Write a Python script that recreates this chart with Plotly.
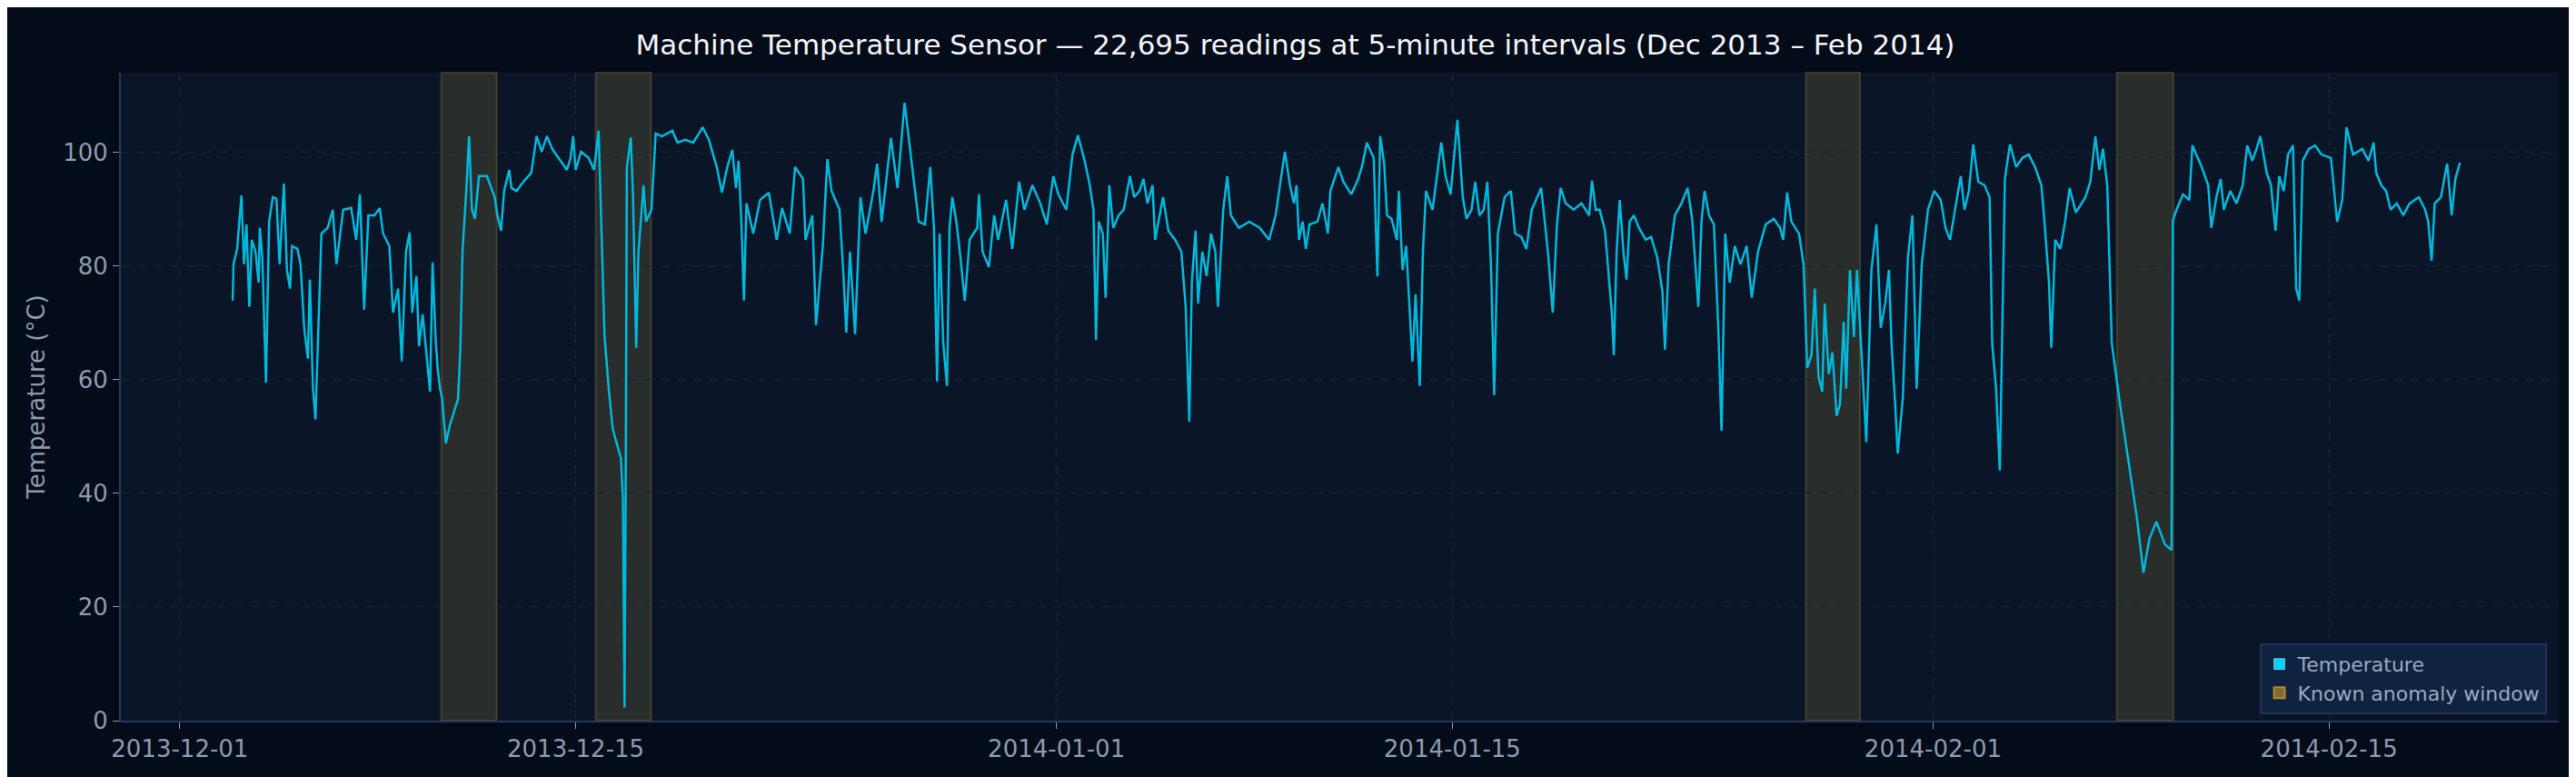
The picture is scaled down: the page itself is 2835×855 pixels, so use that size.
import pandas as pd
import plotly.graph_objects as go

# readings as (days since 2013-12-01, temperature degC)
day_offset = [
    1.87, 1.90, 2.03, 2.18, 2.27, 2.36, 2.46, 2.55, 2.68, 2.79, 2.83, 2.92, 3.05, 3.16, 3.29, 3.42,
    3.53, 3.68, 3.79, 3.90, 3.97, 4.16, 4.27, 4.40, 4.53, 4.60, 4.71, 4.80, 4.89, 5.01, 5.23, 5.41,
    5.54, 5.78, 6.06, 6.24, 6.37, 6.52, 6.67, 6.89, 7.07, 7.19, 7.41, 7.54, 7.72, 7.85, 8.00, 8.13,
    8.22, 8.37, 8.46, 8.59, 8.74, 8.85, 8.94, 9.05, 9.12, 9.20, 9.28, 9.41, 9.55, 9.70, 9.84, 9.92,
    10.00, 10.13, 10.23, 10.33, 10.44, 10.58, 10.86, 11.14, 11.23, 11.36, 11.47, 11.65, 11.73,
    11.91, 12.15, 12.43, 12.62, 12.80, 12.98, 13.17, 13.45, 13.69, 13.82, 13.91, 14.00, 14.19,
    14.46, 14.65, 14.81, 14.95, 15.02, 15.17, 15.31, 15.45, 15.60, 15.67, 15.73, 15.77, 15.81,
    15.95, 16.03, 16.14, 16.22, 16.40, 16.49, 16.68, 16.83, 17.05, 17.42, 17.60, 17.88, 18.16,
    18.49, 18.71, 18.99, 19.17, 19.36, 19.54, 19.67, 19.76, 19.86, 19.95, 20.04, 20.28, 20.52,
    20.83, 21.11, 21.30, 21.57, 21.76, 22.04, 22.13, 22.37, 22.50, 22.74, 22.90, 23.05, 23.33,
    23.46, 23.57, 23.70, 23.88, 24.07, 24.25, 24.53, 24.66,
    24.82, 25.15, 25.38, 25.63, 25.89, 26.13, 26.35, 26.54, 26.67, 26.78, 26.87, 27.00, 27.13,
    27.22, 27.32, 27.46, 27.61, 27.76, 27.93, 28.20, 28.26, 28.39, 28.61, 28.80, 28.94, 29.22,
    29.44, 29.68, 29.87, 30.15, 30.43, 30.66, 30.89, 31.07, 31.35, 31.57, 31.76, 32.00, 32.18,
    32.31, 32.40, 32.50, 32.64, 32.74, 32.87, 33.01, 33.20, 33.38, 33.60, 33.75, 33.94, 34.08,
    34.22, 34.40, 34.49, 34.77, 34.96, 35.20, 35.42, 35.57, 35.70, 35.79, 35.92, 36.01, 36.16,
    36.31, 36.47, 36.62, 36.71, 36.90, 37.04, 37.17, 37.45, 37.82, 38.19, 38.52, 38.75, 38.93,
    39.08, 39.26, 39.40, 39.49, 39.58, 39.71, 39.82, 39.95, 40.23, 40.41, 40.60, 40.69, 40.97,
    41.15, 41.43, 41.67, 41.80, 41.98, 42.22, 42.35, 42.45, 42.59, 42.69, 42.85, 43.04, 43.11,
    43.24, 43.37, 43.52, 43.59, 43.70, 43.85, 43.96, 44.07, 44.30, 44.61, 44.76, 44.94, 45.18,
    45.37, 45.50, 45.68, 45.81, 45.96, 46.11, 46.24, 46.37, 46.48, 46.61, 46.85, 47.07, 47.22,
    47.44, 47.62, 47.81, 47.99, 48.14, 48.27, 48.40, 48.55, 48.70, 48.83, 49.01, 49.29, 49.57,
    49.84, 49.94, 50.07, 50.21, 50.40, 50.53, 50.64, 50.71, 50.81, 50.92, 51.05, 51.16, 51.27,
    51.42, 51.60, 51.84,
    52.03, 52.25, 52.43, 52.52, 52.65, 52.87, 53.10, 53.32, 53.48, 53.70, 53.81, 53.92, 54.08,
    54.25, 54.41, 54.52, 54.65, 54.81, 54.99, 55.19, 55.41, 55.59, 55.81, 56.08, 56.37, 56.59,
    56.70, 56.84, 56.99, 57.26, 57.42, 57.55, 57.70, 57.82, 57.95, 58.08, 58.17, 58.31, 58.44,
    58.59, 58.71, 58.84, 58.93, 59.06, 59.20, 59.31, 59.46, 59.64, 59.82, 60.00, 60.15, 60.31,
    60.44, 60.53, 60.66, 60.75, 60.93, 61.11, 61.27, 61.42, 61.60, 61.82, 62.04, 62.27, 62.44,
    62.60, 62.76, 62.98, 63.11, 63.27, 63.42, 63.60, 63.82, 64.00, 64.09, 64.23, 64.36, 64.54,
    64.72, 64.94, 65.16, 65.38, 65.61, 65.83, 65.94, 66.10, 66.18, 66.32, 66.50, 66.67, 66.83,
    67.05, 67.39, 67.56, 67.74, 67.88, 68.01, 68.16, 68.32, 68.60, 68.90, 69.20, 69.44, 69.65,
    69.90, 70.20, 70.43, 70.48, 70.61, 70.84, 71.06, 71.17, 71.50, 71.73, 71.84, 72.02, 72.17,
    72.28, 72.51, 72.73, 72.95, 73.11, 73.29, 73.44, 73.57, 73.80, 73.95, 74.11, 74.24, 74.40,
    74.55, 74.73, 74.84, 74.95, 75.07, 75.29, 75.51, 75.73, 76.07, 76.29, 76.47, 76.62, 76.85,
    77.18, 77.40, 77.58, 77.67, 77.85, 78.02, 78.18, 78.40, 78.63, 78.85, 79.18, 79.40, 79.51,
    79.63, 79.74, 79.96, 80.18, 80.34, 80.47, 80.63,
]
temperature = [
    73.9, 80.3, 83.0, 92.4, 80.3, 87.3, 72.8, 84.6, 82.5, 77.1, 86.7, 81.4, 59.5, 87.8, 92.1, 91.8,
    80.3, 94.5, 79.3, 76.0, 83.5, 83.0, 80.3, 69.1, 63.7, 77.6, 58.4, 53.0, 67.5, 85.7, 86.7, 89.9,
    80.3, 89.9, 90.2, 84.6, 92.6, 72.3, 88.9, 88.9, 90.2, 85.7, 83.5, 71.8, 76.0, 63.2, 82.5, 85.9,
    71.8, 78.2, 65.9, 71.5, 63.7, 57.9, 80.6, 67.0, 62.0, 58.5, 56.6, 48.8, 52.0, 54.5, 56.6, 65.3,
    82.6, 93.0, 102.8, 89.9, 88.3, 95.8, 95.8, 92.1, 88.9, 86.2, 93.2, 96.9, 93.7,
    93.2, 94.8, 96.4, 102.8, 100.1, 102.8, 100.6, 98.5, 96.9, 99.0, 102.8, 96.9, 100.1,
    99.0, 96.9, 103.8, 80.9, 67.9, 58.3, 51.4, 48.8, 46.2, 39.2, 2.3, 41.8, 97.4,
    102.6, 92.1, 65.6, 82.5, 94.2, 87.8, 89.9, 103.3, 102.8, 103.8, 101.7, 102.2, 101.7,
    104.4, 102.2, 97.4, 92.9, 97.4, 100.4, 93.7, 98.5, 87.8, 73.9, 91.0, 85.7, 91.6,
    92.9, 84.6, 90.2, 85.7, 97.4, 95.3, 84.6, 88.9, 69.6, 83.5, 98.8, 93.2, 89.9,
    79.3, 68.3, 82.5, 68.0, 92.1, 85.7, 93.2, 98.0,
    87.8, 102.5, 93.7, 108.7, 97.4, 87.8, 87.3, 97.4, 86.7, 59.7, 85.7, 66.4, 58.9,
    86.7, 92.1, 87.8, 81.4, 73.9, 84.6, 86.7, 92.6, 82.5, 79.8, 88.9, 84.6, 91.6,
    83.0, 94.8, 89.9, 94.2, 91.0, 87.3, 95.8, 92.6, 89.9, 99.6, 103.0, 98.5, 94.2,
    89.9, 67.0, 87.8, 85.7, 74.4, 94.2, 86.7, 88.9, 89.9, 95.8, 92.1, 93.2, 95.3,
    91.0, 94.2, 84.6, 92.1, 86.2, 84.6, 82.5, 72.8, 52.6, 77.1, 86.2, 73.4, 82.5,
    78.2, 85.7, 82.5, 72.8, 89.9, 95.8, 88.9, 86.7, 87.8, 86.7, 84.6, 88.9, 95.3,
    100.1, 94.2, 91.0, 94.2, 84.6, 87.8, 83.0, 87.3, 87.8, 91.0, 85.7, 93.2, 97.4,
    94.8, 92.6, 95.3, 97.4, 101.7, 99.0, 78.2, 102.8, 98.0, 88.9, 88.3, 84.6, 93.2,
    79.3, 83.5, 68.6, 63.2, 75.0, 58.9, 82.5, 93.2, 89.9, 101.7, 95.8, 92.6, 105.7,
    92.1, 88.3, 89.9, 94.8, 88.9, 89.9, 94.8, 79.8, 57.3, 85.7, 92.1, 93.2, 85.7,
    85.1, 83.0, 89.9, 92.1, 93.7, 87.8, 81.4, 71.8, 87.3, 93.7, 91.0, 89.9, 91.0,
    88.9, 95.0, 89.9, 89.9, 86.2, 78.7, 71.8, 64.3, 82.5, 91.6, 82.5, 77.6, 87.8,
    88.9, 86.7, 84.6,
    85.1, 81.4, 75.5, 65.3, 80.3, 88.9, 91.0, 93.7, 88.3, 72.8, 87.8, 93.2, 88.9,
    87.3, 68.6, 51.0, 85.7, 77.1, 83.5, 80.3, 83.5, 74.4, 82.5, 87.3, 88.3, 86.7,
    84.6, 92.9, 87.8, 85.7, 80.3, 62.1, 64.3, 76.0, 60.5, 57.9, 73.4, 61.0, 64.8,
    53.6, 55.7, 70.2, 58.4, 79.3, 67.5, 79.3, 64.8, 49.0, 79.3, 87.3, 69.1, 73.4,
    79.3, 66.4, 55.7, 47.0, 56.8, 81.4, 88.9, 58.4, 80.3, 89.9, 93.2, 91.6, 86.7,
    84.6, 89.4, 95.8, 89.9, 93.2, 101.4, 94.8, 94.2, 92.1, 66.4, 58.4, 44.0, 95.3,
    101.4, 97.4, 99.0, 99.6, 97.4, 94.2, 87.8, 77.1, 65.6, 84.6, 83.0, 87.8, 93.7,
    89.4, 92.1, 94.8, 102.8, 96.9, 100.6, 94.2, 66.4, 56.0, 46.0, 36.0, 26.0, 32.0,
    35.0, 31.0, 30.0, 88.0, 89.9, 92.6, 91.6, 101.2, 97.4, 94.2, 86.7, 92.1, 95.3,
    89.9, 93.2, 91.0, 94.2, 101.2, 98.5, 100.6, 102.8, 96.4, 94.2, 86.2, 95.8, 93.2,
    99.6, 101.2, 76.0, 73.9, 98.5, 100.6, 101.2, 99.6, 99.0, 87.8, 91.6, 104.4, 99.6,
    100.6, 98.5, 101.7, 96.4, 94.2, 93.2, 89.9, 91.0, 88.9, 91.0, 92.1, 89.9, 87.8,
    80.9, 91.0, 92.1, 98.0, 88.9, 95.3, 98.2,
]

anomaly_start = ["2013-12-10 06:00", "2013-12-15 17:00", "2014-01-27 12:00", "2014-02-07 12:00"]
anomaly_end = ["2013-12-12 05:00", "2013-12-17 16:00", "2014-01-29 10:00", "2014-02-09 12:00"]

tick_dates = ["2013-12-01", "2013-12-15", "2014-01-01", "2014-01-15", "2014-02-01", "2014-02-15"]

base = pd.Timestamp("2013-12-01")
times = base + pd.to_timedelta(day_offset, unit="D")

BG = "#050c19"
PLOT_BG = "#0a1628"
LINE = "#00b8dc"
TICK = "#8e9ab0"
GRID = "#16263f"

fig = go.Figure()

for s, e in zip(anomaly_start, anomaly_end):
    fig.add_vrect(x0=s, x1=e, fillcolor="rgba(205,170,60,0.16)",
                  line=dict(color="rgba(205,170,60,0.22)", width=2), layer="below")

fig.add_trace(go.Scatter(x=times, y=temperature, mode="lines", showlegend=False,
                         line=dict(color=LINE, width=2.5)))

# legend swatches
fig.add_trace(go.Bar(x=[None], y=[None], name="Temperature", marker=dict(color="#00d4ff")))
fig.add_trace(go.Bar(x=[None], y=[None], name="Known anomaly window",
                     marker=dict(color="#7f6c30", line=dict(color="#b08a2a", width=2))))

fig.update_layout(
    width=2835, height=855,
    paper_bgcolor=BG, plot_bgcolor=PLOT_BG,
    font=dict(family="DejaVu Sans", color=TICK, size=26),
    title=dict(text="Machine Temperature Sensor — 22,695 readings at 5-minute intervals (Dec 2013 – Feb 2014)",
               x=0.5, xanchor="center", y=0.965, font=dict(size=31, color="#f2f4f8")),
    margin=dict(l=125, r=27, t=72, b=70),
    legend=dict(x=0.995, y=0.01, xanchor="right", yanchor="bottom", bgcolor="#0f2340",
                bordercolor="#1e3558", borderwidth=2, font=dict(size=22, color="#9aa8bf")),
)
fig.update_xaxes(range=["2013-11-28 22:00", "2014-02-23 03:00"], tickvals=tick_dates, ticktext=tick_dates,
                 showgrid=True, gridcolor=GRID, griddash="dash", zeroline=False,
                 showline=True, linecolor="#22395e", linewidth=2, ticks="outside", tickcolor=TICK,
                 ticklen=7, tickfont=dict(size=26))
fig.update_yaxes(range=[0, 114], tickvals=[0, 20, 40, 60, 80, 100],
                 title=dict(text="Temperature (°C)", font=dict(size=26), standoff=12),
                 showgrid=True, gridcolor=GRID, griddash="dash", zeroline=False,
                 showline=True, linecolor="#22395e", linewidth=2, ticks="outside", tickcolor=TICK,
                 ticklen=7, tickfont=dict(size=26))

fig.write_html("out.html")
